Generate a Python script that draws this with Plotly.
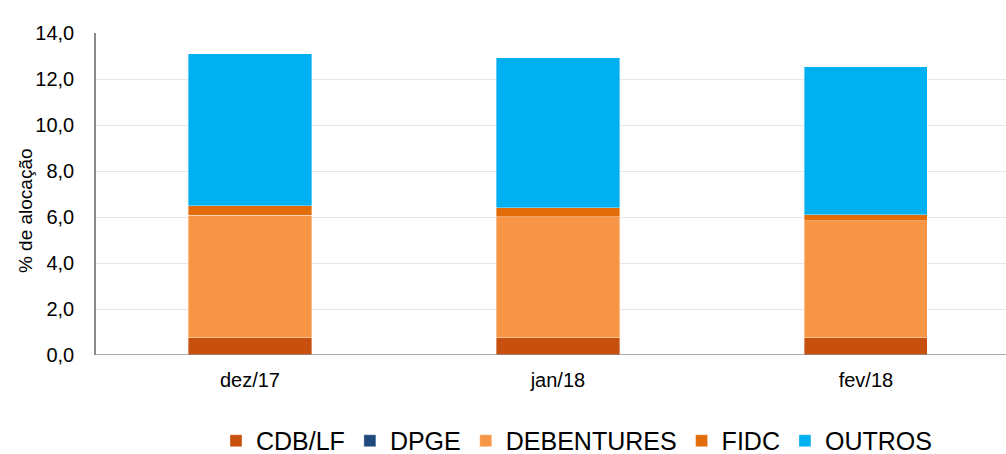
import plotly.graph_objects as go

categories = ["dez/17", "jan/18", "fev/18"]
cdb_lf = [0.75, 0.75, 0.75]
dpge = [0.01, 0.01, 0.01]
debentures = [5.31, 5.25, 5.08]
fidc = [0.43, 0.40, 0.26]
outros = [6.60, 6.51, 6.43]

series = [
    ("CDB/LF", cdb_lf, "#C8500E"),
    ("DPGE", dpge, "#1F497D"),
    ("DEBENTURES", debentures, "#F79646"),
    ("FIDC", fidc, "#E36C0A"),
    ("OUTROS", outros, "#00B0F0"),
]

fig = go.Figure()
for name, vals, color in series:
    fig.add_trace(go.Bar(
        x=categories, y=vals, name=name,
        marker=dict(color=color, line=dict(width=0.6, color="rgba(255,255,255,0.6)")),
        width=0.40,
    ))

fig.update_layout(
    barmode="stack",
    width=1006, height=480,
    margin=dict(l=96, r=0, t=33, b=125),
    paper_bgcolor="white", plot_bgcolor="white",
    font=dict(family="Liberation Sans, Arial, sans-serif", color="#000000"),
    separators=",.",
    showlegend=True,
    legend=dict(orientation="h", x=0.528, xanchor="center", y=-0.267, yanchor="middle",
                font=dict(size=25), itemwidth=30, traceorder="normal"),
    xaxis=dict(range=[-0.5, 2.455], showline=False, ticks="", tickfont=dict(size=20),
               showgrid=False, automargin=False, ticklabelstandoff=11),
    yaxis=dict(range=[0, 14], dtick=2, tickformat=".1f", showline=True, linecolor="#8c8c8c",
               linewidth=1.5, gridcolor="#e6e6e6", gridwidth=1, tickfont=dict(size=20),
               ticks="", ticklen=0, automargin=False, ticklabelstandoff=16,
               zeroline=False),
    annotations=[dict(text="% de alocação", xref="paper", yref="paper",
                      x=-(96 - 25) / 910, y=0.447, xanchor="center", yanchor="middle",
                      textangle=-90, showarrow=False, font=dict(size=19))],
)
fig.add_shape(type="line", xref="paper", yref="y", x0=0, x1=1, y0=0, y1=0,
              line=dict(color="#8c8c8c", width=1.5))

fig.write_html("out.html", config={"displayModeBar": False},
               post_script="document.body.style.margin='0';document.body.style.overflow='hidden';")
